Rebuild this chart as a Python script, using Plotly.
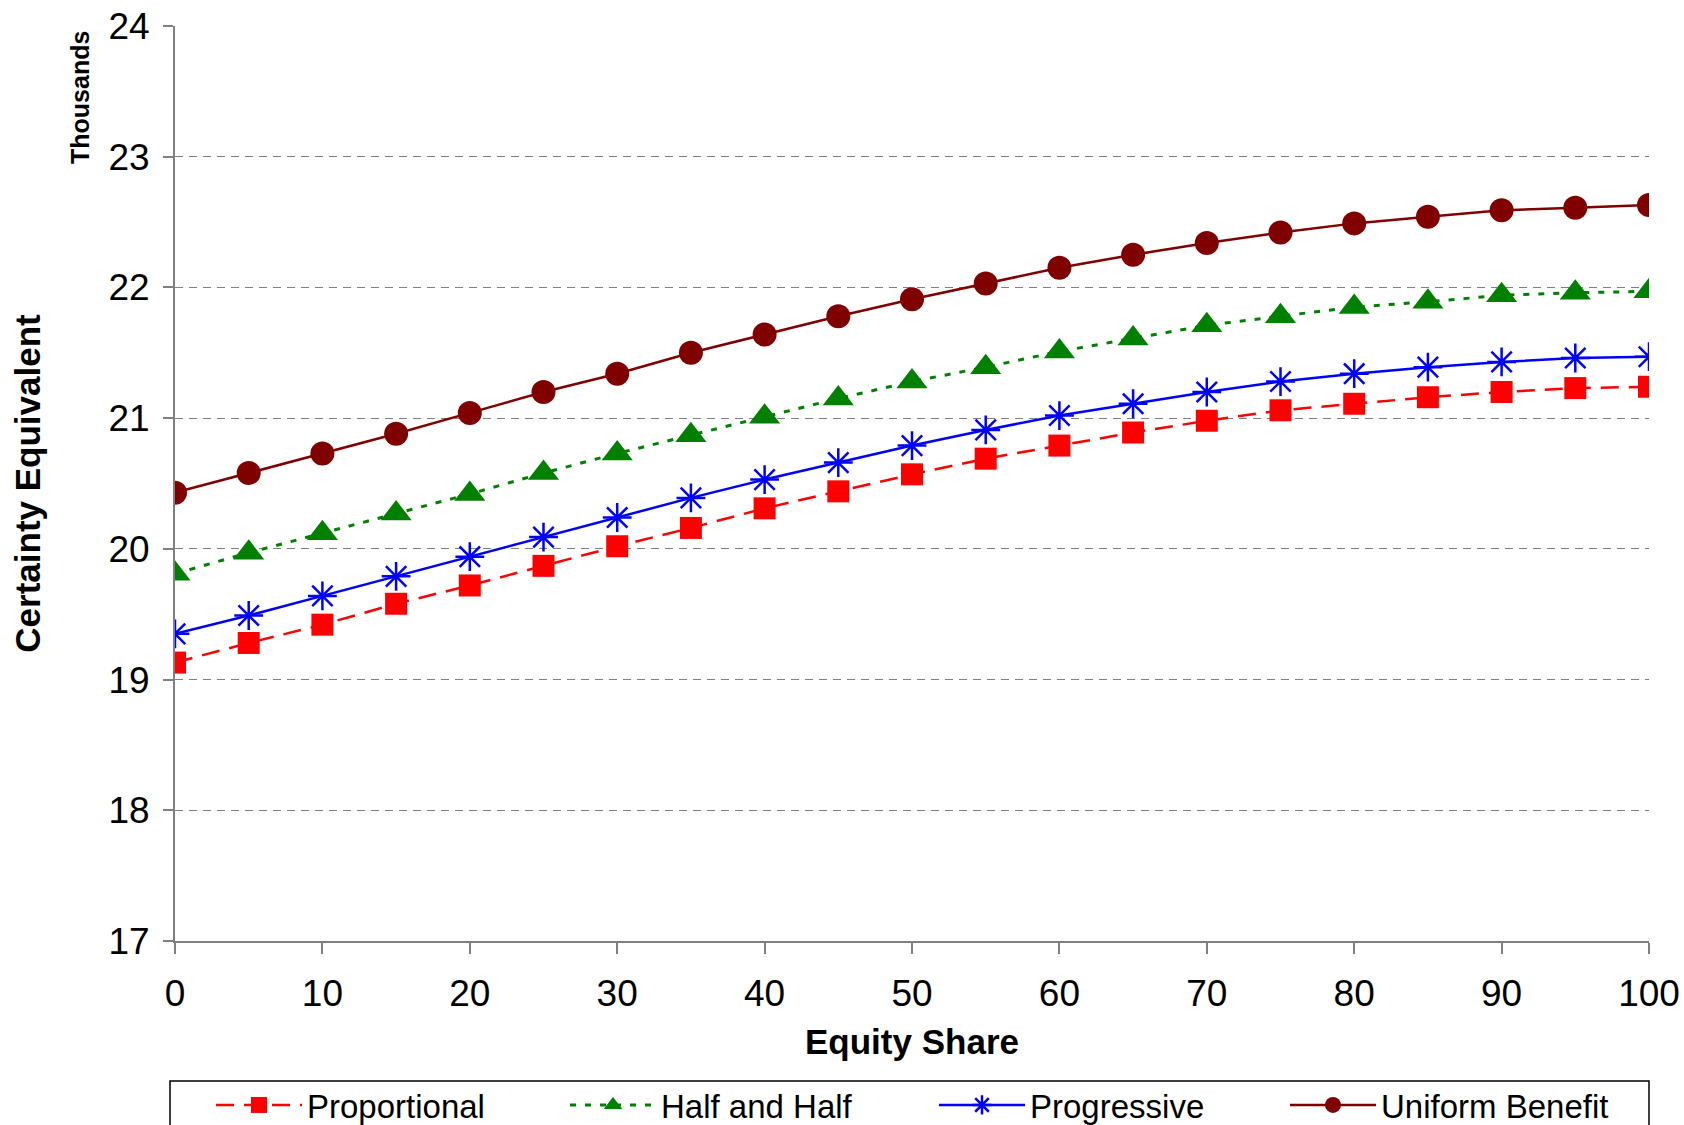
import plotly.graph_objects as go

equity_share = [0, 5, 10, 15, 20, 25, 30, 35, 40, 45, 50, 55, 60, 65, 70, 75, 80, 85, 90, 95, 100]

proportional = [19.13, 19.28, 19.42, 19.58, 19.72, 19.87, 20.02, 20.16, 20.31, 20.44, 20.57,
                 20.69, 20.79, 20.89, 20.98, 21.06, 21.11, 21.16, 21.20, 21.23, 21.24]
half_and_half = [19.81, 19.97, 20.12, 20.27, 20.42, 20.58, 20.73, 20.87, 21.01, 21.15, 21.28,
                 21.39, 21.51, 21.61, 21.71, 21.78, 21.85, 21.89, 21.94, 21.96, 21.97]
progressive = [19.35, 19.49, 19.64, 19.79, 19.94, 20.09, 20.24, 20.39, 20.53, 20.66, 20.79,
               20.91, 21.02, 21.11, 21.20, 21.28, 21.34, 21.39, 21.43, 21.46, 21.47]
uniform_benefit = [20.43, 20.58, 20.73, 20.88, 21.04, 21.20, 21.34, 21.50, 21.64, 21.78, 21.91,
                   22.03, 22.15, 22.25, 22.34, 22.42, 22.49, 22.54, 22.59, 22.61, 22.63]

series_names = ["Proportional", "Half and Half", "Progressive", "Uniform Benefit"]
x_ticks = [0, 10, 20, 30, 40, 50, 60, 70, 80, 90, 100]
y_ticks = [17, 18, 19, 20, 21, 22, 23, 24]

FONT = "Arial, 'Liberation Sans', sans-serif"

W, H = 1684, 1125
ML, MT = 175, 26
MR = W - 1649
MB = H - 941
PW = W - ML - MR
PH = H - MT - MB


def px_x(p):
    return (p - ML) / PW


def px_y(p):
    return (H - MB - p) / PH


styles = [
    dict(line=dict(color="#FF0000", width=2.5, dash="18px,10px"),
         marker=dict(symbol="square", size=22, color="#FF0000")),
    dict(line=dict(color="#008000", width=3, dash="6px,9px"),
         marker=dict(symbol="triangle-up", size=27, color="#008000")),
    dict(line=dict(color="#0000FF", width=2.5),
         marker=dict(symbol="asterisk-open", size=24, color="#0000FF",
                     line=dict(color="#0000FF", width=2.5))),
    dict(line=dict(color="#800000", width=2.5),
         marker=dict(symbol="circle", size=24, color="#800000")),
]
series_values = [proportional, half_and_half, progressive, uniform_benefit]
legend_ids = ["legend", "legend2", "legend3", "legend4"]
legend_line_starts = [215, 569, 938, 1289]  # page px of each legend sample start

fig = go.Figure()
for name, vals, st, lid in zip(series_names, series_values, styles, legend_ids):
    fig.add_trace(go.Scatter(
        x=equity_share, y=vals, name=name, mode="lines+markers",
        legend=lid, showlegend=True, **st))

legend_layouts = {}
for lid, start in zip(legend_ids, legend_line_starts):
    legend_layouts[lid] = dict(
        orientation="h", x=px_x(start - 4), xanchor="left",
        y=px_y(1077), yanchor="top",
        bgcolor="rgba(0,0,0,0)", borderwidth=0,
        font=dict(size=33, family=FONT, color="black"),
        itemwidth=86,
    )

fig.update_layout(
    width=W, height=H,
    paper_bgcolor="white", plot_bgcolor="white",
    margin=dict(l=ML, r=MR, t=MT, b=MB, autoexpand=False),
    font=dict(family=FONT, color="black", size=37),
    showlegend=True,
    annotations=[dict(
        text="<b>Thousands</b>", x=px_x(80), y=px_y(98), xref="paper", yref="paper",
        showarrow=False, textangle=-90, font=dict(size=25, family=FONT),
        xanchor="center", yanchor="middle",
    )],
    shapes=[dict(
        type="rect", xref="paper", yref="paper",
        x0=px_x(170), x1=px_x(1649), y0=px_y(1081), y1=px_y(1140),
        line=dict(color="black", width=1.5), fillcolor="rgba(0,0,0,0)", layer="below",
    )],
    **legend_layouts,
)

fig.update_xaxes(
    range=[0, 100], tickvals=x_ticks, ticktext=[str(v) for v in x_ticks],
    showline=True, linecolor="#808080", linewidth=2,
    ticks="outside", ticklen=11, tickcolor="#808080", tickwidth=1.5,
    showgrid=False, zeroline=False, ticklabelstandoff=8, ticklabeloverflow="allow",
    tickfont=dict(size=37),
    title=dict(text="<b>Equity Share</b>", font=dict(size=35), standoff=16),
)
fig.update_yaxes(
    range=[17, 24], tickvals=y_ticks, ticktext=[str(v) for v in y_ticks],
    showline=True, linecolor="#808080", linewidth=2,
    ticks="outside", ticklen=10, tickcolor="#808080", tickwidth=1.5,
    showgrid=True, gridcolor="#808080", gridwidth=1.3, griddash="8px,6px",
    zeroline=False, ticklabelstandoff=6, ticklabeloverflow="allow",
    tickfont=dict(size=37),
    title=dict(text="<b>Certainty Equivalent</b>", font=dict(size=35), standoff=57),
)

fig.write_html(
    "out.html",
    config={"displayModeBar": False},
    post_script="document.body.style.margin='0';document.body.style.overflow='hidden';",
)
